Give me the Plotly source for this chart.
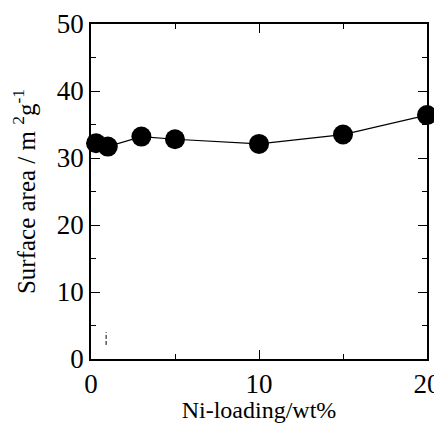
import plotly.graph_objects as go

ni_loading = [0.3, 1, 3, 5, 10, 15, 20]
surface_area = [32.2, 31.7, 33.2, 32.8, 32.1, 33.5, 36.4]
marker_x = [0.9, 0.9]
marker_y = [2.1, 4.0]

FONT = "'Liberation Serif', 'Times New Roman', serif"

fig = go.Figure()
fig.add_trace(go.Scatter(
    x=ni_loading, y=surface_area, mode="lines+markers",
    line=dict(color="black", width=1.2),
    marker=dict(color="black", size=20),
    cliponaxis=False, showlegend=False,
))
fig.add_trace(go.Scatter(
    x=marker_x, y=marker_y, mode="lines",
    line=dict(color="black", width=1, dash="4px,2px"),
    showlegend=False,
))

axis_common = dict(
    showgrid=False, zeroline=False, showline=True, linecolor="black", linewidth=1.5,
    mirror="ticks", ticks="inside", ticklen=9, tickcolor="black", tickwidth=1.2,
    tickfont=dict(family=FONT, size=27, color="black"),
    minor=dict(ticks="inside", ticklen=5, tickcolor="black", tickwidth=1.2, dtick=5),
    automargin=False,
)
fig.update_xaxes(range=[0, 20], dtick=10, **axis_common,
                 title=dict(text="Ni-loading/wt%", font=dict(family=FONT, size=24, color="black"), standoff=8))
fig.update_yaxes(range=[0, 50], dtick=10, **axis_common,
                 title=dict(text="Surface area / m <sup>2</sup>g<sup>-1</sup>", font=dict(family=FONT, size=25, color="black"), standoff=20))

# page body adds an 8px margin, so the figure is sized/offset to compensate
fig.update_layout(
    width=434, height=415,
    margin=dict(l=83, r=15, t=16, b=64, autoexpand=False),
    font=dict(family=FONT),
    plot_bgcolor="white", paper_bgcolor="white",
)
fig.write_html("out.html")
